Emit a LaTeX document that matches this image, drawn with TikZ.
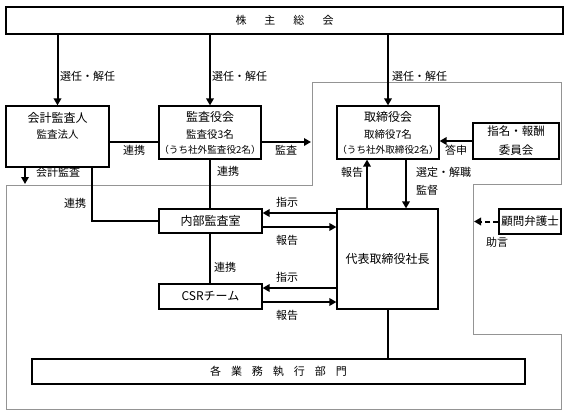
\documentclass[tikz,border=0pt]{standalone}
\usepackage{fontspec}
\setmainfont{Noto Sans CJK JP}
\usetikzlibrary{arrows.meta,calc}
\begin{document}
\begin{tikzpicture}[x=1pt,y=-1pt,
  box/.style={draw,line width=1.2pt,inner sep=0pt,align=center},
  arr/.style={line width=2pt,-{Triangle[length=7pt,width=7.5pt]}},
  conn/.style={line width=2pt},
  lbl/.style={font=\fontsize{11}{12}\selectfont,inner sep=0pt},
  ttl/.style={font=\fontsize{12}{14}\selectfont,inner sep=0pt},
  sub/.style={font=\fontsize{10.5}{12}\selectfont,inner sep=0pt},
  paren/.style={font=\fontsize{9.6}{11}\selectfont,inner sep=0pt},
  grayline/.style={draw=black!42,line width=1pt}]
\useasboundingbox (0,0) rectangle (568,415);
% gray outline
\draw[grayline] (312,82) -- (561,82) -- (561,184) -- (473,184) -- (473,334) -- (561,334) -- (561,409) -- (6,409) -- (6,185) -- (312,185) -- cycle;
% boxes
\node[box,minimum width=557pt,minimum height=27pt,font=\fontsize{11}{13}\selectfont] (kabu) at (284.5,20.5) {株\hspace{18pt}主\hspace{18pt}総\hspace{18pt}会};
\node[box,minimum width=103pt,minimum height=61pt] (kaikei) at (57.5,136.5) {};
\node[ttl] (kaikeiT) at (57.5,118) {会計監査人};
\node[sub] (kaikeiS) at (57.5,135) {監査法人};
\node[box,minimum width=102pt,minimum height=53pt] (kansa) at (210,132.5) {};
\node[ttl] (kansaT) at (210,117) {監査役会};
\node[sub] (kansaS) at (210,135) {監査役3名};
\node[paren] (kansaP) at (210,150) {（うち社外監査役2名）};
\node[box,minimum width=102pt,minimum height=53pt] (tori) at (388,132.5) {};
\node[ttl] (toriT) at (388,117) {取締役会};
\node[sub] (toriS) at (388,135) {取締役7名};
\node[paren] (toriP) at (388,150) {（うち社外取締役2名）};
\node[box,minimum width=86pt,minimum height=36pt,font=\fontsize{11.5}{19}\selectfont] (shimei) at (516,141) {指名・報酬\\委員会};
\node[box,minimum width=103pt,minimum height=24pt,font=\fontsize{12}{14}\selectfont] (naibu) at (210.5,221) {内部監査室};
\node[box,minimum width=103pt,minimum height=25pt,font=\fontsize{12}{14}\selectfont] (csr) at (210.5,296.5) {CSRチーム};
\node[box,minimum width=101pt,minimum height=100pt,font=\fontsize{12}{14}\selectfont] (pres) at (387.5,259) {代表取締役社長};
\node[box,minimum width=62pt,minimum height=25pt,font=\fontsize{11.5}{14}\selectfont] (komon) at (530,221.5) {顧問弁護士};
\node[box,minimum width=493pt,minimum height=25pt,font=\fontsize{11}{13}\selectfont] (kaku) at (278.5,371.5) {各\hspace{10pt}業\hspace{10pt}務\hspace{10pt}執\hspace{10pt}行\hspace{10pt}部\hspace{10pt}門};
% helper coordinates
\coordinate (kansaEnd) at (311,142);
\coordinate (kkEnd) at (25,184);
\coordinate (komonEnd) at (474,221.5);
\coordinate (s1) at ($(naibu.east)+(0,-8)$);
\coordinate (s2) at ($(naibu.east)+(0,6)$);
\coordinate (s3) at ($(csr.east)+(0,-8.5)$);
\coordinate (s4) at ($(csr.east)+(0,5.5)$);
\coordinate (r1) at ($(pres.north)+(-20.5,0)$);
\coordinate (r2) at ($(tori.south)+(18,0)$);
\coordinate (k1) at ($(kaikei.south)+(-32.5,0)$);
\coordinate (k2) at ($(kaikei.south)+(34.5,0)$);
\coordinate (h1) at ($(kaikei.east)+(0,5.5)$);
\coordinate (h2) at ($(kansa.east)+(0,9.5)$);
% connectors
\draw[arr] (kabu.south -| kaikei.north) -- (kaikei.north);
\draw[arr] (kabu.south -| kansa.north) -- (kansa.north);
\draw[arr] (kabu.south -| tori.north) -- (tori.north);
\draw[conn] (h1) -- (h1 -| kansa.west);
\draw[arr] (h2) -- (kansaEnd);
\draw[arr] (k1) -- (kkEnd);
\draw[conn] (k2) |- (naibu.west);
\draw[conn] (kansa.south) -- (kansa.south |- naibu.north);
\draw[conn] (naibu.south -| kansa.south) -- (csr.north -| kansa.south);
\draw[arr] (pres.west |- s1) -- (s1);
\draw[arr] (s2) -- (pres.west |- s2);
\draw[arr] (pres.west |- s3) -- (s3);
\draw[arr] (s4) -- (pres.west |- s4);
\draw[arr] (r1) -- (r1 |- tori.south);
\draw[arr] (r2) -- (r2 |- pres.north);
\draw[arr] (shimei.west) -- (shimei.west -| tori.east);
\draw[arr,dash pattern=on 5pt off 3pt] (komon.west) -- (komonEnd);
\draw[conn] (pres.south) -- (pres.south |- kaku.north);
% labels
\node[lbl,anchor=west] (l1) at (60,76) {選任・解任};
\node[lbl,anchor=west] (l2) at (212,76) {選任・解任};
\node[lbl,anchor=west] (l3) at (392,76) {選任・解任};
\node[lbl] (l4) at (134,150) {連携};
\node[lbl] (l5) at (286,150) {監査};
\node[lbl] (l6) at (456,150) {答申};
\node[lbl] (l7) at (58,172) {会計監査};
\node[lbl] (l8) at (228,171) {連携};
\node[lbl] (l9) at (75,203) {連携};
\node[lbl] (l10) at (352,172) {報告};
\node[lbl,anchor=west] (l11) at (416,172) {選定・解職};
\node[lbl,anchor=west] (l12) at (416,190) {監督};
\node[lbl] (l13) at (287,202) {指示};
\node[lbl] (l14) at (287,240) {報告};
\node[lbl] (l15) at (225,267) {連携};
\node[lbl] (l16) at (287,277) {指示};
\node[lbl] (l17) at (287,315) {報告};
\node[lbl] (l18) at (497,242) {助言};
\end{tikzpicture}
\end{document}
